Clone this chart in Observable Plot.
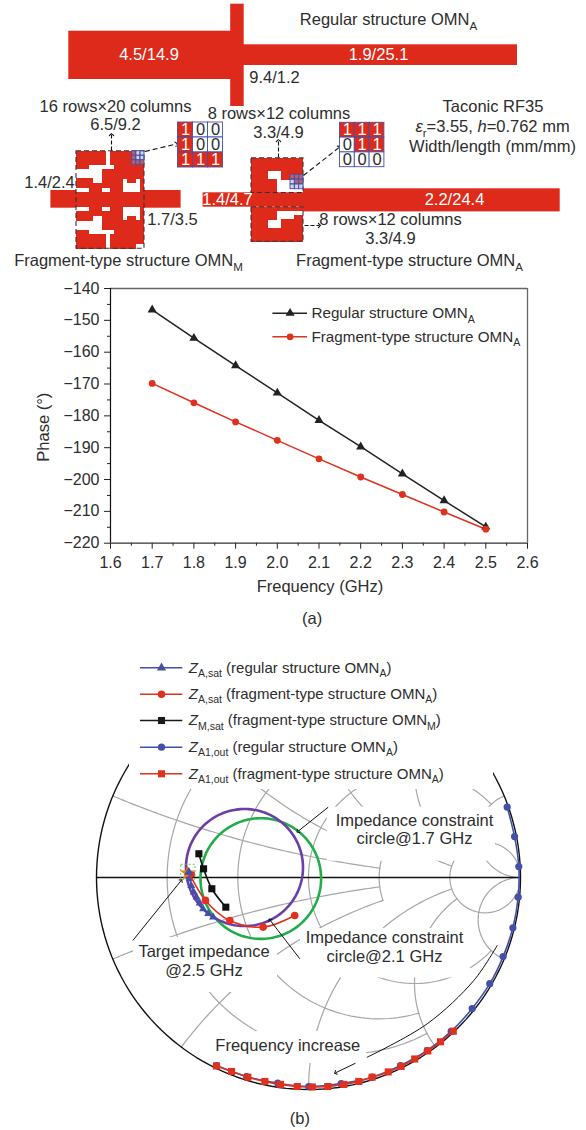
<!DOCTYPE html>
<html>
<head>
<meta charset="utf-8">
<script src="https://cdn.jsdelivr.net/npm/d3@7"></script>
<script src="https://cdn.jsdelivr.net/npm/@observablehq/plot@0.6"></script>
<style>
html,body{margin:0;padding:0;background:#fff}
#page{position:relative;width:586px;height:1130px;overflow:hidden;background:#fff}
#page svg{position:absolute;left:0;background:transparent;font-family:"Liberation Sans",Arial,sans-serif}
</style>
</head>
<body>
<div id="page"></div>
<script>
// ---------- Panel (a) data ----------
const frequency = [1.7,1.8,1.9,2.0,2.1,2.2,2.3,2.4,2.5];
const phaseRegular = [-146.7,-155.6,-164.2,-172.8,-181.4,-189.7,-198.2,-206.6,-214.9];
const phaseFragment = [-169.8,-175.9,-181.9,-187.7,-193.5,-199.2,-204.7,-210.2,-215.6];
const xTicks = [1.6,1.7,1.8,1.9,2.0,2.1,2.2,2.3,2.4,2.5,2.6];
const xMinor = [1.65,1.75,1.85,1.95,2.05,2.15,2.25,2.35,2.45,2.55];
const yTicks = [-140,-150,-160,-170,-180,-190,-200,-210,-220];
const yMinor = [-145,-155,-165,-175,-185,-195,-205,-215];

// ---------- Panel (b) data: reflection coefficient (re, im) ----------
const zA1RegularRe = [.937,.972,.992,.989,.964,.918,.855,.772,.673,.560,.434,.300,.154,.001,-.145,-.292,-.434];
const zA1RegularIm = [.332,.193,.052,-.093,-.237,-.373,-.501,-.618,-.726,-.816,-.887,-.942,-.972,-.986,-.970,-.939,-.887];
const zA1FragRe = [.683,.623,.563,.501,.437,.376,.300,.237,.166,.091,.018,-.053,-.132,-.206,-.286,-.363,-.434];
const zA1FragIm = [-.725,-.775,-.818,-.856,-.891,-.917,-.942,-.962,-.976,-.986,-.988,-.986,-.976,-.962,-.942,-.915,-.889];
const zMFragRe = [-.517,-.495,-.456,-.390];
const zMFragIm = [.112,.041,-.053,-.140];
const zAFragRe = [-.565,-.486,-.371,-.214,-.065];
const zAFragIm = [.025,-.108,-.203,-.234,-.179];
const zARegRe = [-.565,-.560,-.553,-.541,-.528,-.513,-.497,-.473,-.450];
const zARegIm = [.025,-.006,-.038,-.069,-.093,-.121,-.148,-.171,-.187];
const smithR = [{r:.2,lim:2},{r:.5,lim:2},{r:1,lim:5},{r:2,lim:.5},{r:5,lim:300}];
const smithX = [{x:.2,lim:2},{x:.5,lim:2},{x:1,lim:5},{x:2,lim:5},{x:5,lim:300}];
const constraintCircles = [
  {name:"1.7 GHz", re:-.225, im:-.005, rad:.2845, color:"#1fae4a"},
  {name:"2.1 GHz", re:-.302, im:.047, rad:.276, color:"#6a3fa8"}
];

// ---------- Schematic data ----------
const omnM = ["1111111011111100","1111111011111100","1111111011111111","1110000001111111",
  "0000001111111111","0000001111111111","1111001111101101","1111111111100001","0001110011100001",
  "1111111111111111","1111111111111111","1111111111111111","0001110011100001","1111111111100001",
  "1111001111101101","0000001111111111","0000001111111111","1110000001111111","1111111011111111",
  "1111111011111111","1111111011111100"];
const omnATop = ["111111111111","111111111111","111111111111","111100011111",
  "111100011111","111111000011","111111000000","111111000000"];
const omnABottom = ["111111111111","111111000000","111111000011","111100011111",
  "111100011111","111111111111","111111111111","111111111111"];
const insetM = ["100","100","111"];
const insetA = ["111","011","000"];

const RED = "#de2a1b", TXT = "#2d2d2d", BLUE = "#4450a8", FONT = 16.5;

// ---------- Helpers ----------
function cells(rows, x0, x1, y0, y1){
  const w=(x1-x0)/rows[0].length, h=(y1-y0)/rows.length, out=[];
  rows.forEach((s,j)=>[...s].forEach((c,i)=>out.push({v:+c,i,j,x1:x0+i*w,x2:x0+(i+1)*w,y1:y0+j*h,y2:y0+(j+1)*h})));
  return out;
}
function bitmap(rows,x0,x1,y0,y1){
  const w=(x1-x0)/rows[0].length, h=(y1-y0)/rows.length, runs=[];
  rows.forEach((s,j)=>{
    for(const m of s.matchAll(/1+/g)) runs.push({x1:x0+m.index*w,x2:x0+(m.index+m[0].length)*w,y1:y0+j*h-.2,y2:y0+(j+1)*h+.2});
  });
  return Plot.rect(runs,{x1:"x1",x2:"x2",y1:"y1",y2:"y2",fill:RED,shapeRendering:"crispEdges"});
}
function gridBox(x0,x1,y0,y1,n){
  const d=cells(Array(n).fill("0".repeat(n)),x0,x1,y0,y1);
  return Plot.rect(d,{x1:"x1",x2:"x2",y1:"y1",y2:"y2",stroke:BLUE,strokeWidth:.9,fill:"#9a9ec8",fillOpacity:.45});
}
function inset(rows,x0,y0,s){
  const d=cells(rows,x0,x0+3*s,y0,y0+3*s);
  return [
    Plot.rect(d,{x1:"x1",x2:"x2",y1:"y1",y2:"y2",fill:c=>c.v?RED:"#fff",stroke:BLUE,strokeWidth:.9}),
    Plot.text(d,{x:c=>(c.x1+c.x2)/2,y:c=>(c.y1+c.y2)/2,text:c=>String(c.v),fill:c=>c.v?"#fff":TXT,fontSize:FONT})
  ];
}
const T=(x,y,s,o={})=>Plot.text([s],{x:()=>x,y:()=>y,text:d=>d,fill:TXT,fontSize:FONT,...o});
const dashBox=(x1,x2,y1,y2)=>Plot.rect([0],{x1:()=>x1,x2:()=>x2,y1:()=>y1,y2:()=>y2,fill:"none",stroke:"#333",strokeWidth:1.1,strokeDasharray:"5 3"});
const lnk=(x1,y1,x2,y2,o={})=>Plot.link([0],{x1:()=>x1,y1:()=>y1,x2:()=>x2,y2:()=>y2,stroke:"#111",strokeWidth:1.1,markerEnd:"arrow",...o});

function richText(svg){
  svg.querySelectorAll("text").forEach(t=>{
    const targets=t.querySelector("tspan")?[...t.querySelectorAll("tspan")]:[t];
    targets.forEach(el=>{
      const s=el.textContent;
      if(!/[*_]/.test(s)) return;
      el.textContent="";
      const parts=s.split(/(_\{[^}]*\}|\*[^*]*\*)/).filter(p=>p!=="");
      let lift=false;
      const NS="http://www.w3.org/2000/svg";
      parts.forEach(p=>{
        const ts=document.createElementNS(NS,"tspan");
        if(p.startsWith("_{")){
          ts.textContent=p.slice(2,-1);
          ts.setAttribute("font-size","70%");
          ts.setAttribute("dy","0.42em");
          lift=true;
        } else {
          if(p.startsWith("*")){ts.textContent=p.slice(1,-1);ts.setAttribute("font-style","italic");}
          else ts.textContent=p;
          if(lift){ts.setAttribute("dy","-0.294em");lift=false;}
        }
        el.appendChild(ts);
      });
    });
  });
}
const page=document.getElementById("page");
function place(svg,top){svg.style.top=top+"px";richText(svg);page.appendChild(svg);}

// ---------- Schematic ----------
const mx0=76,mx1=144,my0=150.7,my1=248.3;
const ax0=251,ax1=303;
const schematic=Plot.plot({
  width:586,height:282,margin:0,
  x:{type:"identity",axis:null},y:{type:"identity",axis:null},
  marks:[
    // regular structure
    Plot.rect([{x1:68.3,x2:231,y1:30.7,y2:79},{x1:230.2,x2:243.7,y1:3.7,y2:106},{x1:243,x2:517,y1:44.3,y2:65}],
      {x1:"x1",x2:"x2",y1:"y1",y2:"y2",fill:RED}),
    T(148.5,54,"4.5/14.9",{fill:"#fff"}),
    T(378,54,"1.9/25.1",{fill:"#fff"}),
    T(274,77,"9.4/1.2"),
    T(388,19.5,"Regular structure OMN_{A}"),
    // fragment OMN_M
    Plot.rect([{x1:50.4,x2:76,y1:190,y2:207.7},{x1:144,x2:180.6,y1:190,y2:207.7}],
      {x1:"x1",x2:"x2",y1:"y1",y2:"y2",fill:RED}),
    bitmap(omnM,mx0,mx1,my0,my1),
    dashBox(mx0,mx1,my0,my1),
    gridBox(131.7,144,150.7,164.3,3),
    T(115,106,"16 rows×20 columns"),
    T(115,124,"6.5/9.2"),
    T(49,182,"1.4/2.4"),
    T(172,219,"1.7/3.5"),
    T(128,260,"Fragment-type structure OMN_{M}"),
    lnk(111,150,111,134,{strokeDasharray:"4 2"}),
    lnk(144.4,151,176,143.5,{strokeDasharray:"5 3"}),
    ...inset(insetM,177.5,122,15),
    // fragment OMN_A
    Plot.rect([{x1:202.6,x2:304,y1:192.3,y2:206.7},{x1:303,x2:559.7,y1:188.3,y2:211.4}],
      {x1:"x1",x2:"x2",y1:"y1",y2:"y2",fill:RED}),
    bitmap(omnATop,ax0,ax1,157.7,192.5),
    bitmap(omnABottom,ax0,ax1,206.7,241.3),
    dashBox(ax0,ax1,157.7,192.5),
    dashBox(ax0,ax1,206.7,241.3),
    gridBox(290,303,174.3,188.7,3),
    T(278.5,113,"8 rows×12 columns"),
    T(278,132,"3.3/4.9"),
    T(227,199,"1.4/4.7",{fill:"#fff"}),
    T(454,199,"2.2/24.4",{fill:"#fff"}),
    T(390,219,"8 rows×12 columns"),
    T(390,238,"3.3/4.9"),
    T(409,260,"Fragment-type structure OMN_{A}"),
    lnk(278,157,278,140,{strokeDasharray:"4 2"}),
    lnk(303,175,339,146.7,{strokeDasharray:"5 3"}),
    lnk(304,225,319,225,{strokeDasharray:"4 2"}),
    ...inset(insetA,339.5,122.3,14.8),
    T(492.5,106,"Taconic RF35"),
    T(492,126,"*ε*_{r}=3.55, *h*=0.762 mm"),
    T(492,146,"Width/length (mm/mm)")
  ]
});
place(schematic,0);

// ---------- Panel (a) ----------
const seriesA=[
  ...frequency.map((f,i)=>({f,p:phaseRegular[i],s:"reg"})),
  ...frequency.map((f,i)=>({f,p:phaseFragment[i],s:"frag"}))
];
const A=(px)=>1.6+(px-110)/417;           // page px -> GHz, for annotation placement
const B=(py)=>-140-(py-288)/(254.7/80);   // page px -> degrees, for annotation placement
const legendA=[
  {s:"Regular structure OMN_{A}",y:312.7,c:"#222",sym:"triangle",r:3.4},
  {s:"Fragment-type structure OMN_{A}",y:336.3,c:"#e0301e",sym:"circle",r:3.4}
];
const panelA=Plot.plot({
  width:586,height:370,marginLeft:110,marginRight:59,marginTop:18,marginBottom:97.3,
  x:{domain:[1.6,2.6]},y:{domain:[-220,-140]},
  marks:[
    Plot.axisX(xTicks,{tickSize:6,tickPadding:7,tickFormat:d=>d.toFixed(1),fontSize:16,label:null,stroke:"#222",fill:TXT}),
    Plot.axisX(xMinor,{tickSize:3,text:null,label:null,stroke:"#222"}),
    Plot.axisY(yTicks,{tickSize:6,tickPadding:5,tickFormat:d=>"\u2212"+Math.abs(d),fontSize:16,label:null,stroke:"#222",fill:TXT}),
    Plot.axisY(yMinor,{tickSize:3,text:null,label:null,stroke:"#222"}),
    Plot.ruleY([-140],{stroke:"#666",strokeWidth:1.3}),
    Plot.ruleX([2.6],{stroke:"#666",strokeWidth:1.3}),
    Plot.ruleX([1.6],{stroke:"#111",strokeWidth:1.2}),
    Plot.ruleY([-220],{stroke:"#333",strokeWidth:1.2}),
    Plot.line(seriesA.filter(d=>d.s==="reg"),{x:"f",y:"p",stroke:"#222",strokeWidth:1.5}),
    Plot.line(seriesA.filter(d=>d.s==="frag"),{x:"f",y:"p",stroke:"#e0301e",strokeWidth:1.5}),
    Plot.dot(seriesA.filter(d=>d.s==="reg"),{x:"f",y:"p",symbol:"triangle",r:3.4,fill:"#222"}),
    Plot.dot(seriesA.filter(d=>d.s==="frag"),{x:"f",y:"p",symbol:"circle",r:3.4,fill:"#e0301e"}),
    ...legendA.flatMap(l=>[
      Plot.ruleY([B(l.y)],{x1:A(272.4),x2:A(307),stroke:l.c,strokeWidth:1.5}),
      Plot.dot([0],{x:()=>A(289.6),y:()=>B(l.y),symbol:l.sym,r:l.r,fill:l.c}),
      T(A(311),B(l.y),l.s,{textAnchor:"start",fontSize:15.2})
    ]),
    T(A(319.4),B(586.7),"Frequency (GHz)"),
    T(A(43.6),B(426.7),"Phase (°)",{rotate:-90}),
    T(A(311.6),B(618),"(a)")
  ]
});
place(panelA,270);

// ---------- Panel (b) ----------
const zip=(re,im)=>re.map((r,i)=>({re:r,im:im[i]}));
const gamma=(r,x)=>{const d=(r+1)*(r+1)+x*x;return {re:(r*r+x*x-1)/d,im:2*x/d};};
const grid=[];
smithR.forEach((g,k)=>{for(let t=-1;t<=1.0001;t+=.01){const x=g.lim*Math.sign(t)*Math.abs(t)**3;grid.push({id:"r"+k,...gamma(g.r,x)});}});
smithX.forEach((g,k)=>[1,-1].forEach(sg=>{for(let t=0;t<=1.0001;t+=.01){const r=g.lim*t**3;grid.push({id:"x"+k+sg,...gamma(r,sg*g.x)});}}));
const ring=(c)=>d3.range(0,361,2).map(a=>({id:c.name,re:c.re+c.rad*Math.cos(a*Math.PI/180),im:c.im+c.rad*Math.sin(a*Math.PI/180),color:c.color}));
const gx=px=>(px-308)/212, gy=py=>(877-py)/212;   // page px -> reflection plane, for annotation placement
const maskRect=(x1,x2,y1,y2)=>Plot.rect([0],{x1:()=>gx(x1),x2:()=>gx(x2),y1:()=>gy(y1),y2:()=>gy(y2),fill:"#fff"});
const legendB=[
  {s:"*Z*_{A,sat} (regular structure OMN_{A})",y:667.3,c:BLUE,sym:"triangle",r:3.4},
  {s:"*Z*_{A,sat} (fragment-type structure OMN_{A})",y:693.7,c:"#e0301e",sym:"circle",r:3.8},
  {s:"*Z*_{M,sat} (fragment-type structure OMN_{M})",y:720,c:"#1a1a1a",sym:"square",r:4},
  {s:"*Z*_{A1,out} (regular structure OMN_{A})",y:746.7,c:BLUE,sym:"circle",r:3.6},
  {s:"*Z*_{A1,out} (fragment-type structure OMN_{A})",y:773.3,c:"#e0301e",sym:"square",r:4}
];
const freqCurve=[[496.7,945],[473.3,980],[426.7,1023.3],[366.7,1056.7]].map(([x,y])=>({re:gx(x),im:gy(y)}));
const lk=(x1,y1,x2,y2)=>Plot.link([0],{x1:()=>gx(x1),y1:()=>gy(y1),x2:()=>gx(x2),y2:()=>gy(y2),stroke:"#111",strokeWidth:1,markerEnd:"arrow"});
const panelB=Plot.plot({
  width:586,height:480,marginLeft:96,marginRight:66,marginTop:15,marginBottom:41,
  x:{domain:[-1,1],axis:null},y:{domain:[-1,1],axis:null},
  marks:[
    Plot.line(grid,{x:"re",y:"im",z:"id",stroke:"#a6a6a6",strokeWidth:1.2,curve:"linear"}),
    // labels sit on white boxes that interrupt the grid
    maskRect(326.7,495,806.7,860.7),
    maskRect(133,277,937,992),
    maskRect(300,470,928,977.5),
    maskRect(215,366,1031,1063),
    Plot.line(ring({name:"unit",re:0,im:0,rad:1}),{x:"re",y:"im",stroke:"#111",strokeWidth:1.4}),
    maskRect(0,586,650,763),
    maskRect(129,493,650,789),
    Plot.ruleY([0],{x1:-1,x2:1,stroke:"#111",strokeWidth:1.4}),
    Plot.line(ring(constraintCircles[0]),{x:"re",y:"im",stroke:d=>d.color,strokeWidth:2.6}),
    Plot.line(ring(constraintCircles[1]),{x:"re",y:"im",stroke:d=>d.color,strokeWidth:2.6}),
    // regular A1 out
    Plot.line(zip(zA1RegularRe,zA1RegularIm),{x:"re",y:"im",stroke:BLUE,strokeWidth:1.6,curve:"catmull-rom"}),
    Plot.dot(zip(zA1RegularRe,zA1RegularIm),{x:"re",y:"im",r:3.6,fill:BLUE}),
    // fragment A1 out
    Plot.line(zip(zA1FragRe,zA1FragIm),{x:"re",y:"im",stroke:"#e0301e",strokeWidth:1.6,curve:"catmull-rom"}),
    Plot.dot(zip(zA1FragRe,zA1FragIm),{x:"re",y:"im",symbol:"square",r:4,fill:"#e0301e"}),
    // target impedance window
    Plot.rect([0],{x1:()=>gx(180.7),x2:()=>gx(195),y1:()=>gy(864.3),y2:()=>gy(879.3),fill:"none",stroke:"#3fbf5a",strokeWidth:.9,strokeDasharray:"2 2"}),
    Plot.dot([0],{x:()=>gx(187),y:()=>gy(872.5),symbol:"star",r:5,fill:"#f08010"}),
    Plot.dot([0],{x:()=>gx(191.7),y:()=>gy(874),symbol:"square",r:3,fill:"#e0301e"}),
    // M sat
    Plot.line(zip(zMFragRe,zMFragIm),{x:"re",y:"im",stroke:"#111",strokeWidth:1.6,curve:"catmull-rom"}),
    Plot.dot(zip(zMFragRe,zMFragIm),{x:"re",y:"im",symbol:"square",r:4,fill:"#111"}),
    // A sat regular
    Plot.line(zip(zARegRe,zARegIm),{x:"re",y:"im",stroke:BLUE,strokeWidth:1.6}),
    Plot.dot(zip(zARegRe,zARegIm),{x:"re",y:"im",symbol:"triangle",r:3,fill:BLUE}),
    // A sat fragment
    Plot.line(zip(zAFragRe,zAFragIm),{x:"re",y:"im",stroke:"#e0301e",strokeWidth:1.6,curve:"catmull-rom"}),
    Plot.dot(zip(zAFragRe,zAFragIm).slice(1),{x:"re",y:"im",r:3.8,fill:"#e0301e"}),
    Plot.dot([0],{x:()=>gx(188.3),y:()=>gy(871.7),symbol:"triangle",r:3.4,fill:BLUE}),
    // annotations
    lk(327.7,806.7,297.3,831),
    lk(132.3,940,180.7,880),
    lk(299.3,958.3,269.3,919.3),
    Plot.line(freqCurve,{x:"re",y:"im",stroke:"#111",strokeWidth:1,curve:"catmull-rom"}),
    lk(355,1062.7,335,1072.3),
    T(gx(414),gy(820),"Impedance constraint"),
    T(gx(414),gy(838.3),"circle@1.7 GHz"),
    T(gx(203.5),gy(951.7),"Target impedance"),
    T(gx(203.5),gy(970.7),"@2.5 GHz"),
    T(gx(384),gy(937.3),"Impedance constraint"),
    T(gx(384),gy(956.7),"circle@2.1 GHz"),
    T(gx(287.3),gy(1045.3),"Frequency increase"),
    T(gx(299.3),gy(1118.3),"(b)"),
    // legend
    ...legendB.flatMap(l=>[
      Plot.ruleY([gy(l.y)],{x1:gx(140),x2:gx(182.3),stroke:l.c,strokeWidth:1.5}),
      Plot.dot([0],{x:()=>gx(161),y:()=>gy(l.y),symbol:l.sym,r:l.r,fill:l.c}),
      T(gx(188.3),gy(l.y),l.s,{textAnchor:"start",fontSize:15})
    ])
  ]
});
place(panelB,650);
</script>
</body>
</html>
